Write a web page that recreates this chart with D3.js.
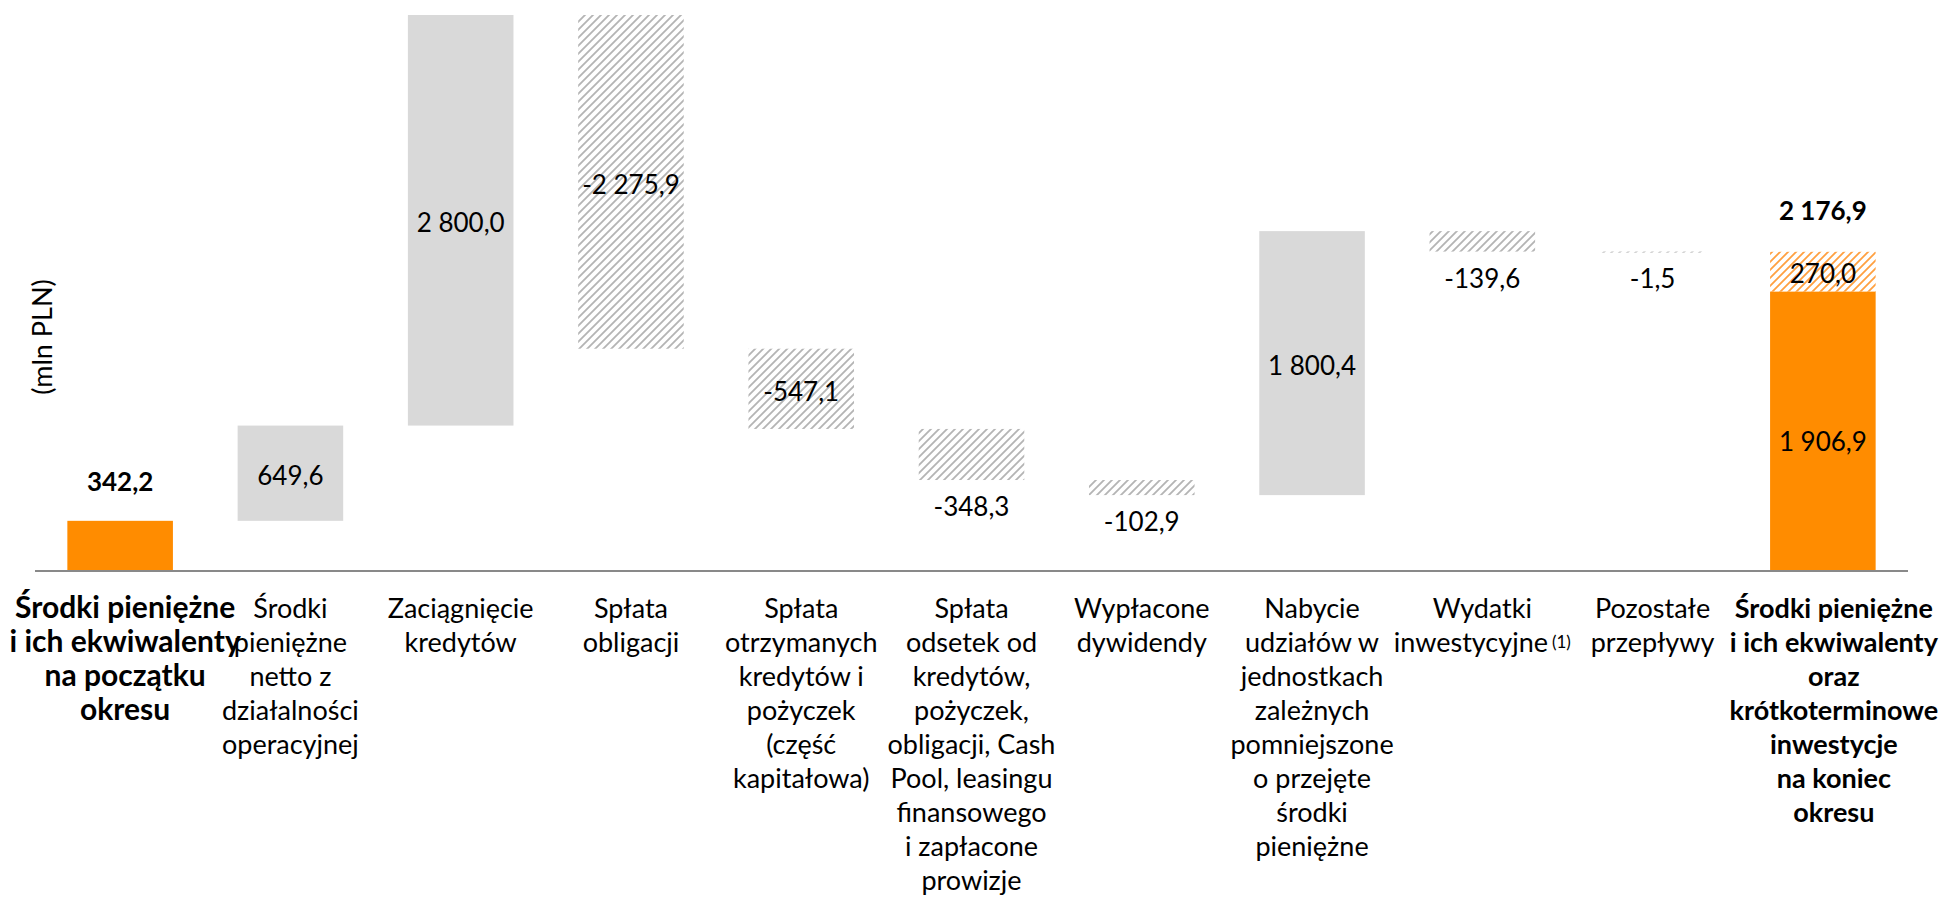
<!DOCTYPE html>
<html>
<head>
<meta charset="utf-8">
<script src="https://cdn.jsdelivr.net/npm/d3@7"></script>
<style>
  html, body { margin: 0; padding: 0; background: #fff; }
  svg { display: block; }
  text { font-family: Lato, "Open Sans", sans-serif; fill: #000; }
</style>
</head>
<body>
<svg id="chart" width="1939" height="902"></svg>
<script>
// ---------- data ----------
const categoryLines = [
  ["Środki pieniężne", "i ich ekwiwalenty", "na początku", "okresu"],
  ["Środki", "pieniężne", "netto z", "działalności", "operacyjnej"],
  ["Zaciągnięcie", "kredytów"],
  ["Spłata", "obligacji"],
  ["Spłata", "otrzymanych", "kredytów i", "pożyczek", "(część", "kapitałowa)"],
  ["Spłata", "odsetek od", "kredytów,", "pożyczek,", "obligacji, Cash", "Pool, leasingu", "finansowego", "i zapłacone", "prowizje"],
  ["Wypłacone", "dywidendy"],
  ["Nabycie", "udziałów w", "jednostkach", "zależnych", "pomniejszone", "o przejęte", "środki", "pieniężne"],
  ["Wydatki", "inwestycyjne"],
  ["Pozostałe", "przepływy"],
  ["Środki pieniężne", "i ich ekwiwalenty", "oraz", "krótkoterminowe", "inwestycje", "na koniec", "okresu"]
];
const startValue = 342.2;
const changes = [649.6, 2800.0, -2275.9, -547.1, -348.3, -102.9, 1800.4, -139.6, -1.5];
const endCash = 1906.9;
const endShortTermInv = 270.0;
const footnoteMark = "(1)";
const footnoteIndex = 8;
const yAxisTitle = "(mln PLN)";

// ---------- setup ----------
const svg = d3.select("#chart");
const FS_VAL = 26, FS_CAT = 27;

const locale = d3.formatLocale({decimal: ",", thousands: " ", grouping: [3], currency: ["", " zł"], minus: "-"});
const fmt = locale.format(",.1f");

const ids = d3.range(categoryLines.length);
const x = d3.scaleBand().domain(ids).range([35, 1908]).paddingInner(0.38).paddingOuter(0.19);
const y = d3.scaleLinear().domain([0, 4000]).range([571, 571 - 4000 * 0.14663]);

// hatch patterns
const defs = svg.append("defs");
function hatch(id, color) {
  const p = defs.append("pattern").attr("id", id).attr("patternUnits", "userSpaceOnUse")
    .attr("width", 8).attr("height", 8);
  p.append("rect").attr("width", 8).attr("height", 8).attr("fill", "#fff");
  p.append("path").attr("d", "M-2,2 L2,-2 M0,8 L8,0 M6,10 L10,6")
    .attr("stroke", color).attr("stroke-width", 1.8);
}
hatch("hatchGrey", "#b4b4b4");
hatch("hatchOrange", "#ffa040");

// build waterfall items
const items = [];
items.push({i: 0, y0: 0, y1: startValue, v: startValue, kind: "total"});
let run = startValue;
changes.forEach((c, k) => {
  const a = run, b = run + c;
  items.push({i: k + 1, y0: Math.min(a, b), y1: Math.max(a, b), v: c, kind: c >= 0 ? "up" : "down"});
  run = b;
});
const total = endCash + endShortTermInv;

const g = svg.append("g");

// bars
g.selectAll("rect.wf").data(items).join("rect")
  .attr("class", "wf")
  .attr("x", d => x(d.i))
  .attr("width", x.bandwidth())
  .attr("y", d => y(d.y1))
  .attr("height", d => Math.max(1, y(d.y0) - y(d.y1)))
  .attr("fill", d => d.kind === "total" ? "#ff8c00" : d.kind === "up" ? "#d9d9d9" : "url(#hatchGrey)");

// final stacked bar
const last = categoryLines.length - 1;
g.append("rect").attr("x", x(last)).attr("width", x.bandwidth())
  .attr("y", y(endCash)).attr("height", y(0) - y(endCash)).attr("fill", "#ff8c00");
g.append("rect").attr("x", x(last)).attr("width", x.bandwidth())
  .attr("y", y(total)).attr("height", y(endCash) - y(total)).attr("fill", "url(#hatchOrange)");

// axis baseline
svg.append("line").attr("x1", 35).attr("x2", 1908).attr("y1", 571).attr("y2", 571)
  .attr("stroke", "#898989").attr("stroke-width", 2);

// value labels
const cx = i => x(i) + x.bandwidth() / 2;
const lab = g.append("g").attr("text-anchor", "middle").attr("font-size", FS_VAL);
items.forEach(d => {
  let ty, bold = false;
  const mid = (y(d.y0) + y(d.y1)) / 2;
  const hpx = y(d.y0) - y(d.y1);
  if (d.kind === "total") { ty = y(d.y1) - 30; bold = true; }
  else if (hpx > 60) { ty = mid + 12; }
  else { ty = y(d.y0) + 36; }
  lab.append("text").attr("x", cx(d.i)).attr("y", ty)
    .attr("font-weight", bold ? 700 : 400).text(fmt(d.v));
});
lab.append("text").attr("x", cx(last)).attr("y", (y(0) + y(endCash)) / 2 + 20).text(fmt(endCash));
lab.append("text").attr("x", cx(last)).attr("y", (y(endCash) + y(total)) / 2 + 11).text(fmt(endShortTermInv));
lab.append("text").attr("x", cx(last)).attr("y", y(total) - 32).attr("font-weight", 700).text(fmt(total));

// category labels
const cat = svg.append("g").attr("text-anchor", "middle");
categoryLines.forEach((lines, i) => {
  const bold = (i === 0 || i === last);
  const shift = i === 0 ? 5 : (i === last ? 11 : 0);
  const t = cat.append("text").attr("x", cx(i) + shift).attr("y", 618)
    .attr("font-size", i === 0 ? 30 : FS_CAT)
    .attr("font-weight", bold ? 700 : 400);
  lines.forEach((ln, k) => {
    t.append("tspan").attr("x", cx(i) + shift).attr("dy", k === 0 ? 0 : 34).text(ln);
    if (i === footnoteIndex && k === lines.length - 1) {
      t.append("tspan").attr("font-size", 17).attr("dx", 4).attr("dy", -4).text(footnoteMark);
    }
  });
});

// y axis title
svg.append("text").attr("transform", "translate(52,337) rotate(-90)")
  .attr("text-anchor", "middle").attr("font-size", FS_CAT).text(yAxisTitle);
</script>
</body>
</html>
